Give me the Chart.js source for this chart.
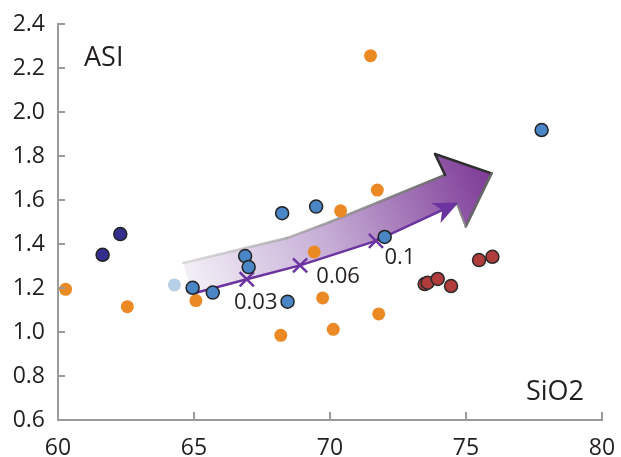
<!DOCTYPE html>
<html>
<head>
<meta charset="utf-8">
<script src="https://cdn.jsdelivr.net/npm/chart.js@4.4.1/dist/chart.umd.min.js"></script>
<style>
html,body{margin:0;padding:0;background:#fff;}
canvas{display:block;}
</style>
</head>
<body>
<canvas id="c" width="621" height="457"></canvas>
<script>
// ---- data ----
const xTicks = [60, 65, 70, 75, 80];
const yTicks = [0.6, 0.8, 1.0, 1.2, 1.4, 1.6, 1.8, 2.0, 2.2, 2.4];

const navyX = [61.64, 62.29];
const navyY = [1.351, 1.445];

const paleX = [64.28];
const paleY = [1.214];

const blueX = [64.95, 65.69, 66.88, 67.01, 68.24, 68.44, 69.49, 72.01, 77.78];
const blueY = [1.201, 1.179, 1.345, 1.295, 1.540, 1.138, 1.570, 1.432, 1.918];

const orangeX = [60.28, 62.55, 65.07, 68.19, 69.42, 69.73, 70.12, 70.39, 71.74, 71.79, 71.49];
const orangeY = [1.194, 1.115, 1.143, 0.985, 1.364, 1.155, 1.012, 1.551, 1.645, 1.082, 2.256];

const redX = [73.48, 73.59, 73.96, 74.45, 75.48, 75.97];
const redY = [1.218, 1.224, 1.241, 1.209, 1.327, 1.342];

// mixing curve (start, 0.03, 0.06, 0.1, arrow end)
const mixX = [65.04, 66.94, 68.90, 71.69, 74.66];
const mixY = [1.177, 1.240, 1.303, 1.414, 1.585];
const mixLabels = ['', '0.03', '0.06', '0.1', ''];

// big trend arrow outline (data coordinates)
const arrowX = [64.60, 68.42, 70.00, 74.23, 73.86, 75.94, 74.99, 74.66, 71.69, 68.90, 66.95, 64.93];
const arrowY = [1.314, 1.427, 1.500, 1.714, 1.809, 1.721, 1.479, 1.585, 1.414, 1.305, 1.241, 1.177];

const xTitle = 'SiO2';
const yTitle = 'ASI';

const pts = (xs, ys) => xs.map((x, i) => ({x: x, y: ys[i]}));

const FONT = '"Open Sans", "DejaVu Sans", sans-serif';
const AXIS = '#9a9a9a';
const PURPLE = '#6c34a0';

const bigArrowPlugin = {
  id: 'bigArrow',
  beforeDatasetsDraw(chart) {
    const {ctx, scales: {x, y}} = chart;
    const P = arrowX.map((v, i) => [x.getPixelForValue(v), y.getPixelForValue(arrowY[i])]);
    ctx.save();
    const g = ctx.createLinearGradient(P[0][0], P[11][1], P[5][0], P[4][1]);
    g.addColorStop(0, '#f6f4f9');
    g.addColorStop(0.45, '#c6aed6');
    g.addColorStop(1, '#7a3493');
    ctx.beginPath();
    P.forEach((p, i) => i ? ctx.lineTo(p[0], p[1]) : ctx.moveTo(p[0], p[1]));
    ctx.closePath();
    ctx.fillStyle = g;
    ctx.fill();
    const seg = (a, b, col, w) => {
      ctx.beginPath();
      ctx.moveTo(P[a][0], P[a][1]);
      ctx.lineTo(P[b][0], P[b][1]);
      ctx.strokeStyle = col;
      ctx.lineWidth = w;
      ctx.stroke();
    };
    ctx.lineCap = 'round';
    ctx.lineJoin = 'round';
    const gb = ctx.createLinearGradient(P[0][0], 0, P[3][0], 0);
    gb.addColorStop(0, 'rgba(200,200,200,0.6)');
    gb.addColorStop(1, '#6a6a6a');
    seg(0, 1, gb, 2.5);
    seg(1, 2, gb, 2.5);
    seg(2, 3, gb, 2.5);
    seg(3, 4, '#2e2e2e', 2.5);
    seg(4, 5, '#2e2e2e', 2.5);
    seg(5, 6, '#666', 2.5);
    seg(6, 7, '#888', 2);
    ctx.restore();
  }
};

const mixPlugin = {
  id: 'mixDecor',
  afterDatasetDraw(chart, args) {
    if (chart.data.datasets[args.index].label !== 'mix') return;
    const {ctx, scales: {x, y}} = chart;
    const n = mixX.length;
    const x1 = x.getPixelForValue(mixX[n - 2]), y1 = y.getPixelForValue(mixY[n - 2]);
    const x2 = x.getPixelForValue(mixX[n - 1]), y2 = y.getPixelForValue(mixY[n - 1]);
    const ang = Math.atan2(y2 - y1, x2 - x1);
    const L = 23, W = 11;
    ctx.save();
    ctx.translate(x2, y2);
    ctx.rotate(ang);
    ctx.beginPath();
    ctx.moveTo(2, 0);
    ctx.lineTo(-L, -W);
    ctx.lineTo(-L * 0.7, 0);
    ctx.lineTo(-L, W);
    ctx.closePath();
    ctx.fillStyle = PURPLE;
    ctx.fill();
    ctx.restore();
    ctx.save();
    ctx.font = '22px ' + FONT;
    ctx.fillStyle = '#231f20';
    ctx.textAlign = 'center';
    ctx.textBaseline = 'middle';
    const offs = [[0, 0], [9, 24], [38, 11], [24, 17], [0, 0]];
    mixLabels.forEach((t, i) => {
      if (!t) return;
      ctx.fillText(t, x.getPixelForValue(mixX[i]) + offs[i][0], y.getPixelForValue(mixY[i]) + offs[i][1]);
    });
    ctx.restore();
  }
};

const axisDecor = {
  id: 'axisDecor',
  afterDraw(chart) {
    const {ctx, scales: {x, y}, chartArea: ca} = chart;
    ctx.save();
    ctx.strokeStyle = AXIS;
    ctx.lineWidth = 2;
    ctx.beginPath();
    xTicks.forEach(v => {
      if (v === x.min) return;
      const px = x.getPixelForValue(v);
      ctx.moveTo(px, ca.bottom);
      ctx.lineTo(px, ca.bottom - 8);
    });
    yTicks.forEach(v => {
      if (v === y.min) return;
      const py = y.getPixelForValue(v);
      ctx.moveTo(ca.left, py);
      ctx.lineTo(ca.left + 7, py);
    });
    ctx.stroke();
    ctx.fillStyle = '#231f20';
    ctx.font = '27px ' + FONT;
    ctx.textBaseline = 'alphabetic';
    ctx.textAlign = 'left';
    ctx.fillText(yTitle, 84, 66);
    ctx.fillText(xTitle, 526, 400);
    ctx.restore();
  }
};

const circle = (label, xs, ys, fill, border, order) => ({
  label: label,
  data: pts(xs, ys),
  backgroundColor: fill,
  borderColor: border || fill,
  borderWidth: border ? 1.5 : 0,
  pointRadius: 6.5,
  pointHoverRadius: 6.5,
  order: order
});

new Chart(document.getElementById('c'), {
  type: 'scatter',
  data: {
    datasets: [
      circle('red', redX, redY, '#b03c3c', '#2a2a2a', 0),
      circle('blue', blueX, blueY, '#4a85c5', '#222', 0),
      circle('navy', navyX, navyY, '#342e8e', '#222', 0),
      circle('pale', paleX, paleY, '#b8cfe8', null, 1),
      circle('orange', orangeX, orangeY, '#eb8a25', null, 1),
      {
        label: 'mix',
        data: pts(mixX, mixY),
        showLine: true,
        borderColor: PURPLE,
        borderWidth: 2.5,
        backgroundColor: PURPLE,
        pointStyle: 'crossRot',
        pointRadius: mixLabels.map(t => t ? 10 : 0),
        pointBorderWidth: 2.5,
        pointBorderColor: PURPLE,
        order: 5
      }
    ]
  },
  options: {
    responsive: false,
    animation: false,
    devicePixelRatio: 1,
    layout: {padding: {top: 24, right: 19, left: 0, bottom: 0}},
    plugins: {legend: {display: false}, tooltip: {enabled: false}},
    scales: {
      x: {
        type: 'linear',
        min: 60, max: 80,
        afterFit(s) { s.height = 37; s.paddingLeft = 0; s.paddingRight = 0; },
        afterBuildTicks(s) { s.ticks = xTicks.map(v => ({value: v})); },
        ticks: {
          font: {family: FONT, size: 23},
          color: '#231f20',
          padding: 15,
          maxRotation: 0,
          callback: v => String(v)
        },
        grid: {display: true, drawOnChartArea: false, drawTicks: false},
        border: {display: true, color: AXIS, width: 2}
      },
      y: {
        type: 'linear',
        min: 0.6, max: 2.4,
        afterFit(s) { s.width = 58; s.paddingTop = 0; s.paddingBottom = 0; },
        afterBuildTicks(s) { s.ticks = yTicks.map(v => ({value: v})); },
        ticks: {
          font: {family: FONT, size: 23},
          color: '#231f20',
          padding: 13,
          callback: v => Number(v).toFixed(1)
        },
        grid: {display: true, drawOnChartArea: false, drawTicks: false},
        border: {display: true, color: AXIS, width: 2}
      }
    }
  },
  plugins: [bigArrowPlugin, mixPlugin, axisDecor]
});
</script>
</body>
</html>
